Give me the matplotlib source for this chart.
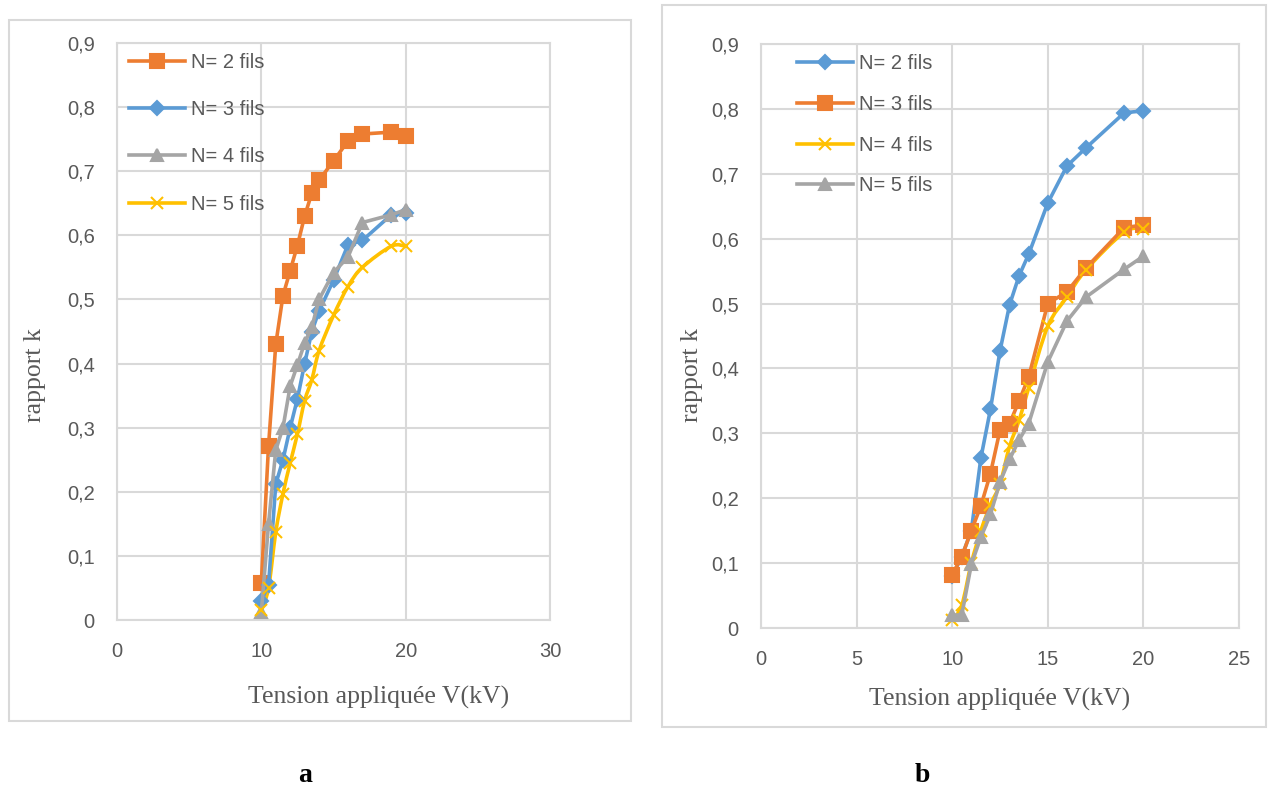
import matplotlib
matplotlib.use("Agg")
import matplotlib.pyplot as plt
from matplotlib.path import Path
from matplotlib.patches import PathPatch, Rectangle
from matplotlib.ticker import FuncFormatter, MultipleLocator
from matplotlib.lines import Line2D

# tension appliquée (kV), common to every series
tension = [10, 10.5, 11, 11.5, 12, 12.5, 13, 13.5, 14, 15, 16, 17, 19, 20]

# figure a
k_a_n2 = [0.058, 0.272, 0.430, 0.506, 0.545, 0.584, 0.630, 0.666, 0.686, 0.716, 0.747, 0.758, 0.761, 0.755]
k_a_n3 = [0.030, 0.055, 0.212, 0.250, 0.300, 0.345, 0.400, 0.450, 0.482, 0.530, 0.585, 0.592, 0.632, 0.635]
k_a_n4 = [0.012, 0.150, 0.265, 0.300, 0.365, 0.398, 0.432, 0.457, 0.500, 0.542, 0.566, 0.620, 0.632, 0.640]
k_a_n5 = [0.015, 0.050, 0.137, 0.197, 0.245, 0.290, 0.342, 0.375, 0.420, 0.475, 0.520, 0.550, 0.583, 0.583]

# figure b
k_b_n2 = [0.080, 0.110, 0.150, 0.262, 0.337, 0.427, 0.498, 0.543, 0.576, 0.655, 0.712, 0.740, 0.794, 0.797]
k_b_n3 = [0.082, 0.110, 0.150, 0.188, 0.238, 0.305, 0.315, 0.350, 0.387, 0.500, 0.518, 0.555, 0.617, 0.621]
k_b_n4 = [0.012, 0.035, 0.100, 0.150, 0.190, 0.222, 0.280, 0.320, 0.370, 0.465, 0.510, 0.552, 0.610, 0.615]
k_b_n5 = [0.020, 0.020, 0.098, 0.140, 0.175, 0.225, 0.260, 0.290, 0.315, 0.410, 0.473, 0.510, 0.553, 0.573]

BLUE = "#5B9BD5"
ORANGE = "#ED7D31"
GRAY = "#A5A5A5"
YELLOW = "#FFC000"
GRID = "#D9D9D9"
TXT = "#595959"

plt.rcParams["font.family"] = ["Liberation Sans", "DejaVu Sans"]

fig = plt.figure(figsize=(12.7, 7.89), dpi=100)

# panel frames
for x0, y0, x1, y1 in [(9, 20, 631, 721), (662, 5, 1266, 727)]:
    fig.patches.append(Rectangle((x0 / 1270, 1 - y1 / 789), (x1 - x0) / 1270, (y1 - y0) / 789,
                                 transform=fig.transFigure, fill=False,
                                 edgecolor=GRID, linewidth=1.5))

LW = 2.6


def smooth_line(ax, x, y, color, lw):
    # Bezier smoothing through the points (Excel style)
    n = len(x)
    verts = [(x[0], y[0])]
    codes = [Path.MOVETO]
    for i in range(n - 1):
        xp, yp = (x[i - 1], y[i - 1]) if i > 0 else (x[i], y[i])
        xn, yn = (x[i + 2], y[i + 2]) if i + 2 < n else (x[i + 1], y[i + 1])
        c1 = (x[i] + (x[i + 1] - xp) / 6, y[i] + (y[i + 1] - yp) / 6)
        c2 = (x[i + 1] - (xn - x[i]) / 6, y[i + 1] - (yn - y[i]) / 6)
        verts += [c1, c2, (x[i + 1], y[i + 1])]
        codes += [Path.CURVE4] * 3
    ax.add_patch(PathPatch(Path(verts, codes), fill=False, edgecolor=color,
                           linewidth=lw, zorder=3, capstyle="round", joinstyle="round"))


def series(ax, y, color, marker, ms, label, smooth=False):
    if smooth:
        smooth_line(ax, tension, y, color, LW)
        ax.plot(tension, y, linestyle="none", marker=marker, ms=ms, color=color,
                mew=1.5, zorder=4)
    else:
        ax.plot(tension, y, color=color, lw=LW, marker=marker, ms=ms, mew=1.5, zorder=4)
    return Line2D([], [], color=color, lw=LW, marker=marker, ms=ms, mew=1.5, label=label)


def style_axes(ax, xmax, xstep):
    ax.set_xlim(0, xmax)
    ax.set_ylim(0, 0.9)
    ax.xaxis.set_major_locator(MultipleLocator(xstep))
    ax.yaxis.set_major_locator(MultipleLocator(0.1))
    ax.yaxis.set_major_formatter(FuncFormatter(lambda v, p: f"{v:.1f}".replace(".", ",") if abs(v) > 1e-9 else "0"))
    ax.xaxis.set_major_formatter(FuncFormatter(lambda v, p: f"{v:g}"))
    ax.grid(True, color=GRID, lw=1.5)
    ax.set_axisbelow(True)
    for s in ax.spines.values():
        s.set_color(GRID)
        s.set_linewidth(1.5)
    ax.tick_params(length=0, labelsize=14.5, colors=TXT, pad=16)


ax_a = fig.add_axes([117 / 1270, 1 - 620 / 789, (550 - 117) / 1270, (620 - 43) / 789])
style_axes(ax_a, 30, 10)
h = [
    series(ax_a, k_a_n2, ORANGE, "s", 10.5, "N= 2 fils"),
    series(ax_a, k_a_n3, BLUE, "D", 7, "N= 3 fils"),
    series(ax_a, k_a_n4, GRAY, "^", 9, "N= 4 fils"),
    series(ax_a, k_a_n5, YELLOW, "x", 8.5, "N= 5 fils", smooth=True),
]
ax_a.legend(handles=h, loc="upper left", bbox_to_anchor=(0.005, 1.0), frameon=False,
            fontsize=14.5, labelcolor=TXT, handlelength=2.75, handletextpad=0.3,
            labelspacing=1.4, borderpad=0.3, borderaxespad=0.2)

ax_b = fig.add_axes([761 / 1270, 1 - 628 / 789, (1239 - 761) / 1270, (628 - 44) / 789])
style_axes(ax_b, 25, 5)
h = [
    series(ax_b, k_b_n2, BLUE, "D", 7, "N= 2 fils"),
    series(ax_b, k_b_n3, ORANGE, "s", 10.5, "N= 3 fils"),
    series(ax_b, k_b_n4, YELLOW, "x", 8.5, "N= 4 fils", smooth=True),
    series(ax_b, k_b_n5, GRAY, "^", 9, "N= 5 fils"),
]
ax_b.legend(handles=h, loc="upper left", bbox_to_anchor=(0.055, 1.0), frameon=False,
            fontsize=14.5, labelcolor=TXT, handlelength=2.75, handletextpad=0.3,
            labelspacing=1.08, borderpad=0.3, borderaxespad=0.2)

serif = ["Liberation Serif", "DejaVu Serif"]
fig.text(379 / 1270, 1 - 697 / 789, "Tension appliquée V(kV)", family=serif, fontsize=18.5,
         color=TXT, ha="center", va="center")
fig.text(1000 / 1270, 1 - 699 / 789, "Tension appliquée V(kV)", family=serif, fontsize=18.5,
         color=TXT, ha="center", va="center")
fig.text(35 / 1270, 1 - 375 / 789, "rapport k", family=serif, fontsize=18.5, color=TXT,
         rotation=90, ha="center", va="center")
fig.text(692 / 1270, 1 - 375 / 789, "rapport k", family=serif, fontsize=18.5, color=TXT,
         rotation=90, ha="center", va="center")
fig.text(305 / 1270, 1 - 776 / 789, "a", family=serif, fontsize=20, weight="bold",
         ha="center", va="center")
fig.text(922 / 1270, 1 - 776 / 789, "b", family=serif, fontsize=20, weight="bold",
         ha="center", va="center")

fig.savefig("out.png", dpi=100, facecolor="white")
